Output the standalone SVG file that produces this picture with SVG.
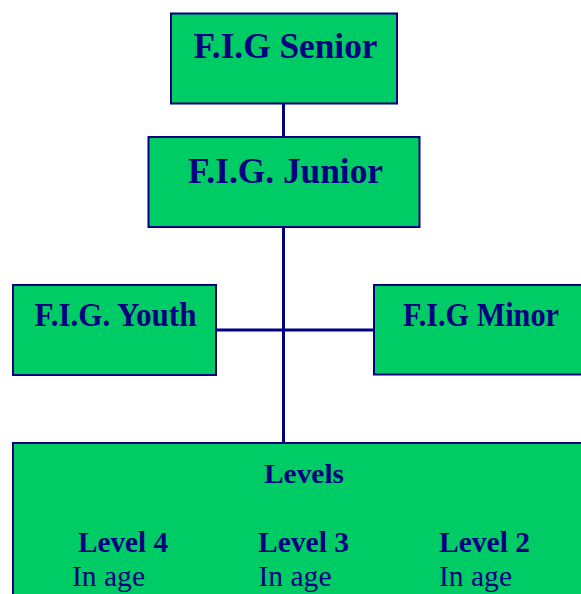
<svg xmlns="http://www.w3.org/2000/svg" width="581" height="594" viewBox="0 0 581 594">
<style>
.box{fill:#00CC66;stroke:#000080;stroke-width:2}
.t{font-family:"Liberation Serif","Times New Roman",serif;font-weight:bold;fill:#000080}
.r{font-family:"Liberation Serif","Times New Roman",serif;fill:#000080}
.c{stroke:#000080;stroke-width:3;fill:none}
</style>
<rect width="581" height="594" fill="#ffffff"/>
<g id="connectors">
<line class="c" x1="283.5" y1="103" x2="283.5" y2="137"/>
<line class="c" x1="283.5" y1="227" x2="283.5" y2="443"/>
<line class="c" x1="216" y1="330" x2="374" y2="330"/>
</g>
<g id="senior">
<rect class="box" x="171" y="13.5" width="226" height="90"/>
<text class="t" x="193.5" y="58" font-size="35" textLength="184" lengthAdjust="spacingAndGlyphs">F.I.G Senior</text>
</g>
<g id="junior">
<rect class="box" x="148.5" y="137" width="271" height="90"/>
<text class="t" x="188" y="182.5" font-size="35" textLength="195" lengthAdjust="spacingAndGlyphs">F.I.G. Junior</text>
</g>
<g id="youth">
<rect class="box" x="13" y="285" width="203" height="90"/>
<text class="t" x="34.5" y="325.5" font-size="33" textLength="162" lengthAdjust="spacingAndGlyphs">F.I.G. Youth</text>
</g>
<g id="minor">
<rect class="box" x="374" y="285" width="220" height="89.5"/>
<text class="t" x="403" y="325.5" font-size="33" textLength="156" lengthAdjust="spacingAndGlyphs">F.I.G Minor</text>
</g>
<g id="levels">
<rect class="box" x="13" y="443" width="590" height="170"/>
<text class="t" x="264" y="483" font-size="28" textLength="80" lengthAdjust="spacingAndGlyphs">Levels</text>
<text class="t" x="78" y="552" font-size="30" textLength="90" lengthAdjust="spacingAndGlyphs">Level 4</text>
<text class="t" x="258" y="552" font-size="30" textLength="91" lengthAdjust="spacingAndGlyphs">Level 3</text>
<text class="t" x="439" y="552" font-size="30" textLength="91" lengthAdjust="spacingAndGlyphs">Level 2</text>
<text class="r" x="72" y="585.5" font-size="30" textLength="73" lengthAdjust="spacingAndGlyphs">In age</text>
<text class="r" x="258.5" y="585.5" font-size="30" textLength="73" lengthAdjust="spacingAndGlyphs">In age</text>
<text class="r" x="439" y="585.5" font-size="30" textLength="73" lengthAdjust="spacingAndGlyphs">In age</text>
</g>
</svg>
